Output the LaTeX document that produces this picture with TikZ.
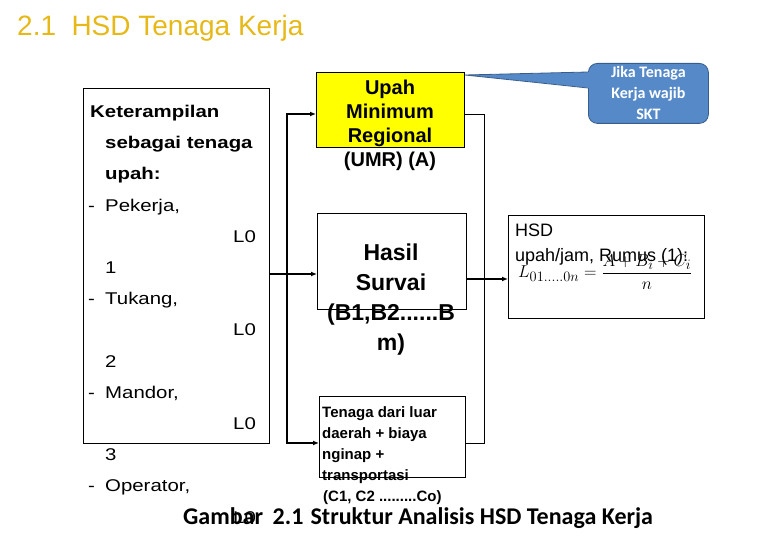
\documentclass[tikz,border=0pt]{standalone}
\usepackage[no-math]{fontspec}
\setmainfont{Liberation Sans}
\newfontfamily\widesans{Liberation Sans}[FakeStretch=1.2]
\newfontfamily\calibri{Carlito}
\usetikzlibrary{arrows.meta,calc}

\definecolor{titlegold}{RGB}{230,184,24}
\definecolor{umryellow}{RGB}{255,255,0}
\definecolor{skblue}{RGB}{86,137,200}
\definecolor{skedge}{RGB}{56,93,138}

\newcommand\dashitem[1]{\makebox[17pt][l]{-}#1}
\newcommand\lzero{\hspace*{145pt}L0}
\newcommand\lidx[1]{\hspace*{17pt}#1}

\tikzset{
  box/.style={draw, line width=0.9pt, inner sep=0pt, anchor=north west},
  conn/.style={line width=1.8pt},
  thinconn/.style={line width=0.9pt},
  arr/.style={-{Latex[length=6pt,width=5pt]}},
  arrs/.style={{Latex[length=6pt,width=5pt]}-{Latex[length=6pt,width=5pt]}},
}

\begin{document}
\begin{tikzpicture}[x=1pt, y=-1pt]
    \useasboundingbox (0,0) rectangle (780,540);

    \node[anchor=base west, inner sep=0, text=titlegold, font=\fontsize{28}{32}\selectfont] (title) at (17,36) {2.1\hspace{0.55em}HSD Tenaga Kerja};

    % boxes
    \node[box, minimum width=186pt, minimum height=355pt] (skill) at (83,88) {};
    \node[box, fill=umryellow, minimum width=148pt, minimum height=75pt] (umr) at (316,72) {};
    \node[box, minimum width=149pt, minimum height=96pt] (hasil) at (317,213) {};
    \node[box, minimum width=146pt, minimum height=81pt] (luar) at (319,396) {};
    \node[box, minimum width=196pt, minimum height=103pt] (hsd) at (508,215) {};

    % texts of the boxes
    \node[anchor=north west, inner sep=0, align=left, font=\widesans\fontsize{17}{31.2}\selectfont] (skilltxt) at (88,105) {%
      \hspace*{2pt}\textbf{Keterampilan}\\
      \lidx{\textbf{sebagai tenaga}}\\
      \lidx{\textbf{upah:}}\\
      \dashitem{Pekerja,}\\
      \lzero\\
      \lidx{1}\\
      \dashitem{Tukang,}\\
      \lzero\\
      \lidx{2}\\
      \dashitem{Mandor,}\\
      \lzero\\
      \lidx{3}\\
      \dashitem{Operator,}\\
      \lzero};
    \node[anchor=north, inner sep=0, align=center, font=\bfseries\fontsize{20}{24}\selectfont] (umrtxt) at (390,80) {Upah\\Minimum\\Regional\\(UMR) (A)};
    \node[anchor=north, inner sep=0, align=center, font=\bfseries\fontsize{23}{30}\selectfont] (hasiltxt) at (391,244) {Hasil\\Survai\\(B1,B2......B\\m)};
    \node[anchor=north west, inner sep=0, align=left, font=\bfseries\fontsize{15}{21}\selectfont] (luartxt) at (322,406) {Tenaga dari luar\\daerah + biaya\\nginap +\\transportasi\\\hspace*{1pt}(C1, C2 .........Co)};
    \node[anchor=north west, inner sep=0, align=left, font=\fontsize{18}{25}\selectfont] (hsdtxt) at (515,224) {HSD\\upah/jam, Rumus (1):};
    \node[anchor=base west, inner sep=0, font=\fontsize{19}{22}\selectfont] (rumus) at (518,278) {$\displaystyle L_{01.....0n}=\frac{A+B_i+C_i}{n}$};

    % callout
    \node[anchor=north west, fill=skblue, draw=skedge, line width=0.8pt, rounded corners=9pt, minimum width=120pt, minimum height=60pt, align=center, text=white, font=\calibri\bfseries\fontsize{16}{21}\selectfont] (skt) at (588,63) {Jika Tenaga\\Kerja wajib\\SKT};
    % tail of the callout
    \fill[skblue] ($(skt.north west)+(2,9)$) -- ($(umr.north east)+(0,3)$) -- ($(skt.north west)+(2,25)$) -- cycle;
    \draw[skedge, line width=0.8pt] ($(skt.north west)+(0,9)$) -- ($(umr.north east)+(0,3)$) -- ($(skt.north west)+(0,25)$);

    \node[anchor=base west, inner sep=0, font=\calibri\bfseries\fontsize{24}{28}\selectfont] (caption) at (183,524) {Gambar\hspace{0.4em}2.1\hspace{0.3em}Struktur Analisis HSD Tenaga Kerja};

    \coordinate (jtop) at (287,114);
    \coordinate (jbot) at (287,443);
    \coordinate (split) at (287,274);
    \coordinate (rtop) at (484,114);
    \coordinate (rbot) at (484,443);
    \coordinate (rout) at (484,279);

    % left bracket to UMR and to outside workers
    \draw[conn, arrs] (jtop -| umr.west) -- (jtop) -- (jbot) -- (jbot -| luar.west);
    % skill box through bracket to survey
    \draw[conn, arr] (split -| skill.east) -- (split -| hasil.west);
    % right collector
    \draw[thinconn] (rtop -| umr.east) -- (rtop) -- (rbot) -- (rbot -| luar.east);
    % survey to HSD
    \draw[conn, arr] (rout -| hasil.east) -- (rout -| hsd.west);
\end{tikzpicture}
\end{document}
